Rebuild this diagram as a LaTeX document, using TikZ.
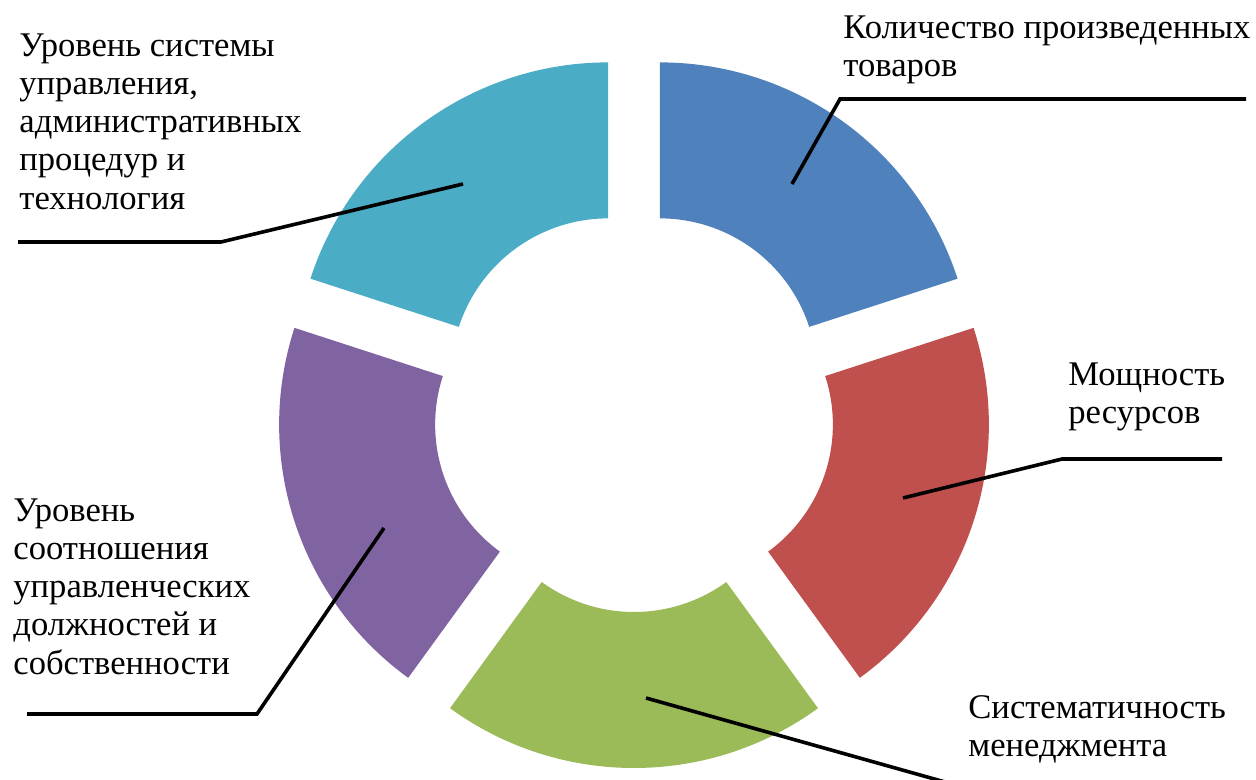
\documentclass[tikz,border=0pt]{standalone}
\usepackage{fontspec}
\setmainfont{Liberation Serif}
\usetikzlibrary{calc}
\definecolor{cblue}{HTML}{4F81BD}
\definecolor{ccyan}{HTML}{4BACC6}
\definecolor{cpurple}{HTML}{8064A2}
\definecolor{cgreen}{HTML}{9BBB59}
\definecolor{cred}{HTML}{C0504D}
\begin{document}
\begin{tikzpicture}[x=0.5pt,y=0.5pt,
  lbl/.style={anchor=north west,inner sep=0pt,align=left,font=\fontsize{17.3}{19.15}\selectfont},
  leader/.style={line width=1.8pt,black}]
\useasboundingbox (0,0) rectangle (1256,780);
\def\Ccx{634}\def\Ccy{369}\def\Rout{313}\def\Rin{157}\def\Off{44}
\foreach \name/\col/\b [evaluate=\b as \ba using \b-36, evaluate=\b as \bb using \b+36] in
  {blue/cblue/54, cyan/ccyan/126, purple/cpurple/198, green/cgreen/270, red/cred/342} {
  \coordinate (c-\name) at ($(\Ccx,\Ccy)+(\b:\Off)$);
  \fill[\col] ($(c-\name)+(\ba:\Rout)$) arc[start angle=\ba, end angle=\bb, radius=\Rout]
     -- ($(c-\name)+(\bb:\Rin)$) arc[start angle=\bb, end angle=\ba, radius=\Rin] -- cycle;
}
% labels
\node[lbl] (tblue) at (843,765) {Количество произведенных\\товаров};
\node[lbl] (tcyan) at (19,747) {Уровень системы\\управления,\\административных\\процедур и\\технология};
\node[lbl] (tred) at (1068,418) {Мощность\\ресурсов};
\node[lbl] (tpurple) at (13,282) {Уровень\\соотношения\\управленческих\\должностей и\\собственности};
\node[lbl] (tgreen) at (968,85) {Систематичность\\менеджмента};
% leader points
\coordinate (pblue) at (792,596); \coordinate (kblue) at (840,681); \coordinate (eblue) at (1246,681);
\coordinate (pcyan) at (463,596); \coordinate (kcyan) at (221,538); \coordinate (ecyan) at (18,538);
\coordinate (pred) at (903,282); \coordinate (kred) at (1062,321); \coordinate (ered) at (1222,321);
\coordinate (ppurple) at (384,252); \coordinate (kpurple) at (257,66); \coordinate (epurple) at (27,66);
\coordinate (pgreen) at (646,82); \coordinate (egreen) at (945,-2);
\draw[leader] (pblue) -- (kblue) -- (eblue);
\draw[leader] (pcyan) -- (kcyan) -- (ecyan);
\draw[leader] (pred) -- (kred) -- (ered);
\draw[leader] (ppurple) -- (kpurple) -- (epurple);
\draw[leader] (pgreen) -- (egreen);
\end{tikzpicture}
\end{document}
